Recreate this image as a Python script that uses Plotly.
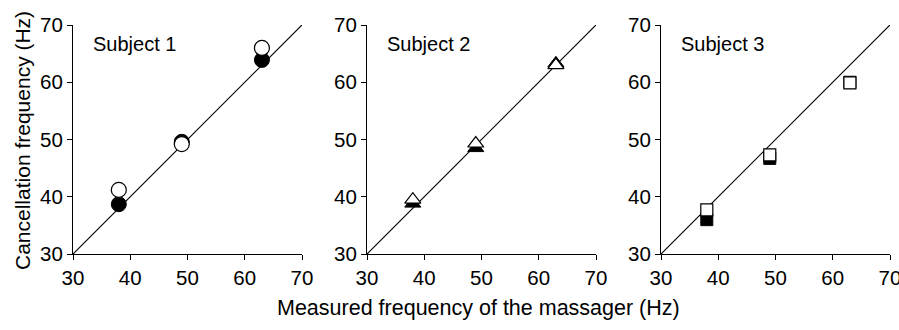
import plotly.graph_objects as go

measured = [38, 49, 63]
s1_filled = [38.7, 49.6, 63.9]
s1_open = [41.2, 49.2, 66.0]
s2_filled = [38.8, 48.5, 63.3]
s2_open = [39.5, 49.3, 63.0]
s3_filled = [36.0, 46.7, 60.0]
s3_open = [37.7, 47.3, 59.9]
subjects = ["Subject 1", "Subject 2", "Subject 3"]
symbols = ["circle", "triangle-up", "square"]
tick_vals = [30, 40, 50, 60, 70]

W, H = 899, 330
FONT = "Liberation Sans, Arial, sans-serif"
fig = go.Figure()

panels = [(73, 302), (367, 596), (661, 890)]
ydom = [1 - 254 / H, 1 - 25 / H]
data = [(s1_filled, s1_open), (s2_filled, s2_open), (s3_filled, s3_open)]
sizes = [15, 14, 12]

for i, ((x0, x1), (filled, opened)) in enumerate(zip(panels, data)):
    n = "" if i == 0 else str(i + 1)
    xa, ya = "x" + n, "y" + n
    fig.add_trace(go.Scatter(x=[30, 70], y=[30, 70], mode="lines",
                             line=dict(color="black", width=1.2),
                             xaxis=xa, yaxis=ya, showlegend=False, hoverinfo="skip"))
    fig.add_trace(go.Scatter(x=measured, y=filled, mode="markers",
                             marker=dict(symbol=symbols[i], size=sizes[i], color="black",
                                         line=dict(color="black", width=1)),
                             xaxis=xa, yaxis=ya, showlegend=False))
    fig.add_trace(go.Scatter(x=measured, y=opened, mode="markers",
                             marker=dict(symbol=symbols[i], size=sizes[i], color="white",
                                         line=dict(color="black", width=1.2)),
                             xaxis=xa, yaxis=ya, showlegend=False))
    axcommon = dict(range=[30, 70], tickvals=tick_vals, ticks="outside", ticklen=5,
                    tickwidth=1.2, tickcolor="black", showline=True, linecolor="black",
                    linewidth=1.2, showgrid=False, zeroline=False, automargin=False,
                    ticklabeloverflow="allow",
                    tickfont=dict(family=FONT, size=20.5, color="black"))
    fig.layout["xaxis" + n] = dict(domain=[x0 / W, x1 / W], anchor=ya, **axcommon)
    fig.layout["yaxis" + n] = dict(domain=ydom, anchor=xa, **axcommon)
    fig.add_annotation(x=33.2, y=66.6, xref=xa, yref=ya, text=subjects[i], showarrow=False,
                       xanchor="left", yanchor="middle",
                       font=dict(family=FONT, size=20, color="black"))

fig.add_annotation(x=478.5 / W, y=1 - 308 / H, xref="paper", yref="paper",
                   text="Measured frequency of the massager (Hz)", showarrow=False,
                   xanchor="center", yanchor="middle",
                   font=dict(family=FONT, size=21.5, color="black"))
fig.add_annotation(x=22 / W, y=1 - 141 / H, xref="paper", yref="paper",
                   text="Cancellation frequency (Hz)", showarrow=False, textangle=-90,
                   xanchor="center", yanchor="middle",
                   font=dict(family=FONT, size=21, color="black"))

fig.update_layout(width=W, height=H, margin=dict(l=0, r=0, t=0, b=0),
                  paper_bgcolor="white", plot_bgcolor="white", showlegend=False)
fig.write_html("out.html")
